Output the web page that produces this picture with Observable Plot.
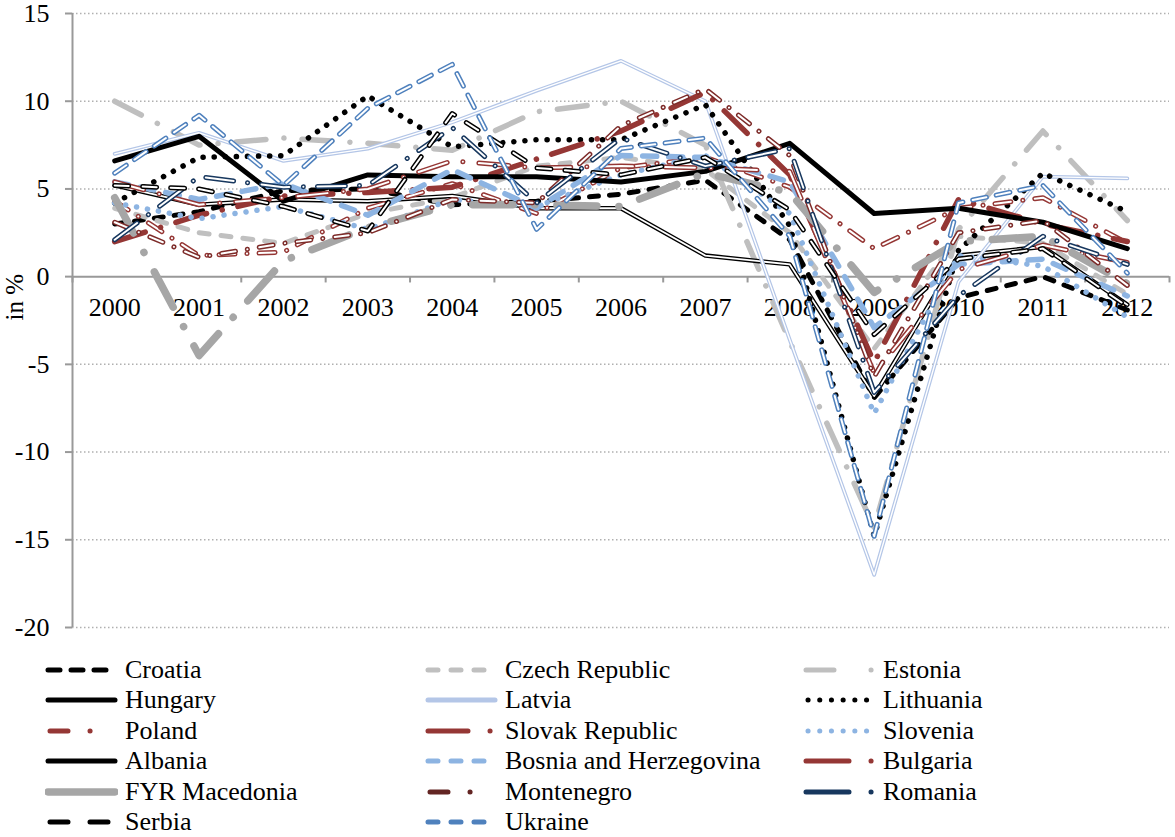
<!DOCTYPE html>
<html><head><meta charset="utf-8">
<script src="https://cdn.jsdelivr.net/npm/d3@7"></script>
<script src="https://cdn.jsdelivr.net/npm/@observablehq/plot@0.6"></script>
<style>
html,body{margin:0;background:#fff;font-family:"Liberation Serif","Times New Roman","DejaVu Serif",serif;overflow:hidden;}
#legend{display:grid;grid-template-columns:380px 378px 300px;grid-auto-rows:22px;row-gap:8.4px;padding:14px 0 0 45px;}
.item{display:flex;align-items:center;height:22px;line-height:22px;font-size:26px;color:#000;white-space:nowrap;}
.item svg{margin-right:7px;flex:none}
</style></head><body>
<div id="chart"></div><div id="legend"></div>
<script>
const years = [2000,2001,2002,2003,2004,2005,2006,2007,2008,2009,2010,2011,2012];
const yTicks = [15,10,5,0,-5,-10,-15,-20];

const croatia    = [3.0, 3.7, 4.9, 5.0, 4.1, 4.3, 4.7, 5.5, 2.1, -6.9, -1.2, 0.0, -1.9];
const czech      = [3.9, 2.5, 1.9, 3.6, 4.5, 6.3, 6.8, 6.1, 2.5, -4.1, 2.3, 1.9, -1.0];
const estonia    = [10.0, 7.5, 7.9, 7.6, 7.2, 9.4, 10.0, 7.5, -3.7, -14.3, 2.7, 8.3, 3.2];
const hungary    = [5.2, 4.1, 4.4, 4.3, 4.6, 3.9, 3.9, 1.2, 0.7, -6.8, 1.2, 1.7, -1.6];
const latvia     = [7.0, 8.2, 6.6, 7.3, 8.8, 10.6, 12.3, 10.0, -3.6, -17.0, -0.3, 5.7, 5.6];
const lithuania  = [4.2, 6.8, 6.9, 10.3, 7.4, 7.8, 7.8, 9.8, 2.9, -14.8, 1.5, 5.9, 3.7];
const poland     = [4.3, 1.2, 1.4, 3.9, 5.3, 3.6, 6.2, 6.8, 5.1, 1.6, 3.9, 4.5, 1.9];
const slovak     = [2.0, 3.5, 4.6, 4.8, 5.1, 6.7, 8.3, 10.5, 5.8, -4.9, 4.4, 3.0, 2.0];
const slovenia   = [4.2, 3.3, 4.0, 2.7, 4.4, 4.0, 5.8, 6.9, 3.6, -7.8, 1.2, 0.6, -2.3];
const albania    = [6.6, 8.0, 4.3, 5.8, 5.7, 5.7, 5.4, 6.0, 7.6, 3.6, 3.9, 3.1, 1.6];
const bosnia     = [5.4, 4.4, 5.3, 3.5, 6.1, 3.9, 6.9, 6.8, 5.4, -2.9, 0.7, 1.0, -1.1];
const bulgaria   = [5.4, 4.1, 4.5, 5.0, 6.6, 6.2, 6.3, 6.2, 6.0, -5.5, 0.4, 1.8, 0.8];
const macedonia  = [4.5, -4.5, 0.9, 2.8, 4.1, 4.1, 4.0, 5.9, 4.8, -0.9, 2.0, 2.3, -0.4];
const montenegro = [3.1, 1.1, 1.9, 2.5, 4.4, 4.2, 8.6, 10.7, 6.9, -5.7, 2.5, 3.2, -0.5];
const romania    = [2.1, 5.7, 5.1, 5.2, 8.5, 4.2, 7.9, 6.3, 7.3, -6.6, -1.1, 2.3, 0.7];
const serbia     = [5.2, 5.0, 4.0, 2.6, 9.3, 6.2, 5.8, 6.8, 3.8, -3.3, 1.0, 1.6, -1.7];
const ukraine    = [5.9, 9.2, 5.2, 9.6, 12.1, 2.7, 7.3, 7.9, 2.3, -14.8, 4.2, 5.2, 0.2];

const RED = "#953735", NAVY = "#17375e", LBLUE = "#8db4e2", BLUE = "#4f81bd", LAT = "#b4c6e7";
const FONT = "'Liberation Serif','Times New Roman','DejaVu Serif',serif";

// chart style (s) and legend swatch style (l)
const series = [
  {name:"Croatia", v:croatia, s:{c:"#000", w:5, d:"9,11"}, l:{c:"#000", w:5, d:"12,11", x:3}},
  {name:"Czech Republic", v:czech, s:{c:"#c0c0c0", w:5, d:"10,12"}, l:{c:"#c0c0c0", w:5, d:"10,13", x:3}},
  {name:"Estonia", v:estonia, s:{c:"#bfbfbf", w:5.5, d:"30,18,0.1,18"}, l:{c:"#bfbfbf", w:5, d:"28,37,0.1,100", x:3}},
  {name:"Hungary", v:hungary, s:{c:"#000", w:4.5, d:null, dbl:1.8}, l:{c:"#000", w:5, d:null, x:3}},
  {name:"Latvia", v:latvia, s:{c:LAT, w:3.8, d:null, dbl:1.4}, l:{c:LAT, w:5, d:null, x:3}},
  {name:"Lithuania", v:lithuania, s:{c:"#000", w:5.5, d:"0.1,11"}, l:{c:"#000", w:5, d:"0.1,11.6", x:5}},
  {name:"Poland", v:poland, s:{c:RED, w:5, d:"16,12,0.1,12", dbl:2}, l:{c:RED, w:5, d:"18,22,0.1,25,0.1,100", x:5}},
  {name:"Slovak Republic", v:slovak, s:{c:RED, w:5.5, d:"32,16,0.1,16"}, l:{c:RED, w:5, d:"40,22,0.1,100", x:3}},
  {name:"Slovenia", v:slovenia, s:{c:LBLUE, w:5.5, d:"0.1,11"}, l:{c:LBLUE, w:5, d:"0.1,11.6", x:5}},
  {name:"Albania", v:albania, s:{c:"#000", w:5, d:null}, l:{c:"#000", w:5, d:null, x:3}},
  {name:"Bosnia and Herzegovina", v:bosnia, s:{c:LBLUE, w:5.5, d:"14,12"}, l:{c:LBLUE, w:5, d:"10,13", x:3}},
  {name:"Bulgaria", v:bulgaria, s:{c:RED, w:5, d:"30,16,0.1,16", dbl:2}, l:{c:RED, w:5, d:"43,22,0.1,100", x:3}},
  {name:"FYR Macedonia", v:macedonia, s:{c:"#a6a6a6", w:7.5, d:"40,22,0.1,22"}, l:{c:"#a6a6a6", w:7.5, d:null, x:3}},
  {name:"Montenegro", v:montenegro, s:{c:"#7d2b29", w:5, d:"14,12,0.1,12", dbl:2}, l:{c:"#632523", w:5, d:"18,22,0.1,25,0.1,100", x:5}},
  {name:"Romania", v:romania, s:{c:NAVY, w:5, d:"28,14,0.1,14", dbl:2}, l:{c:NAVY, w:5, d:"43,22,0.1,100", x:3}},
  {name:"Serbia", v:serbia, s:{c:"#000", w:5, d:"14,14", dbl:2}, l:{c:"#000", w:5, d:"18,22", x:5}},
  {name:"Ukraine", v:ukraine, s:{c:BLUE, w:5, d:"14,10", dbl:2}, l:{c:BLUE, w:5, d:"10,13", x:3}},
];

const rows = series.flatMap(s => years.map((y, i) => ({country: s.name, year: y, value: s.v[i]})));
const edges = years.map(y => y - 0.5).concat([years[years.length - 1] + 0.5]);

const lineMarks = series.flatMap(s => {
  const data = rows.filter(r => r.country === s.name);
  const base = {x: "year", y: "value", strokeLinecap: "round", strokeLinejoin: "round"};
  const m = [Plot.line(data, {...base, stroke: s.s.c, strokeWidth: s.s.w, strokeDasharray: s.s.d || undefined})];
  if (s.s.dbl) m.push(Plot.line(data, {...base, stroke: "#fff", strokeWidth: s.s.dbl, strokeDasharray: s.s.d || undefined}));
  return m;
});

const chart = Plot.plot({
  width: 1175, height: 645,
  marginTop: 13, marginBottom: 18, marginLeft: 72, marginRight: 6,
  style: {fontFamily: FONT, fontSize: "26px", background: "#fff", color: "#000"},
  x: {domain: [edges[0], edges[edges.length - 1]], axis: null},
  y: {domain: [-20, 15], axis: null},
  marks: [
    Plot.ruleY(yTicks.filter(d => d !== 0), {stroke: "#b0b0b0", strokeWidth: 1.5, strokeDasharray: "1.5,2.5"}),
    Plot.ruleX([edges[0]], {stroke: "#999", strokeWidth: 2}),
    Plot.axisY({ticks: yTicks, tickSize: 7, tickPadding: 16, stroke: "#999", strokeWidth: 2, tickFormat: d => String(d), fontSize: 26, fontFamily: FONT, fill: "#000", label: null}),
    Plot.text(["in %"], {frameAnchor: "left", rotate: -90, dx: -58, fontSize: 25, fontFamily: FONT, fill: "#000"}),
    Plot.ruleY([0], {stroke: "#999", strokeWidth: 2}),
    Plot.ruleX(edges, {x: d => d, y1: () => 0, y2: () => -0.36, stroke: "#999", strokeWidth: 2}),
    Plot.text(years, {x: d => d, y: () => 0, dy: 31, text: d => String(d), fontSize: 26, fontFamily: FONT, fill: "#000"}),
    ...lineMarks
  ]
});
document.getElementById("chart").append(chart);

// legend: three columns, row-major order
const legend = document.getElementById("legend");
const NS = "http://www.w3.org/2000/svg";
series.forEach(s => {
  const item = document.createElement("div");
  item.className = "item";
  const svg = document.createElementNS(NS, "svg");
  svg.setAttribute("width", 73); svg.setAttribute("height", 14);
  const ln = document.createElementNS(NS, "line");
  ln.setAttribute("x1", s.l.x); ln.setAttribute("x2", 70);
  ln.setAttribute("y1", 7); ln.setAttribute("y2", 7);
  ln.setAttribute("stroke", s.l.c); ln.setAttribute("stroke-width", s.l.w);
  ln.setAttribute("stroke-linecap", "round");
  if (s.l.d) ln.setAttribute("stroke-dasharray", s.l.d);
  svg.append(ln);
  const t = document.createElement("span");
  t.textContent = s.name;
  item.append(svg, t);
  legend.append(item);
});
</script>
</body></html>
